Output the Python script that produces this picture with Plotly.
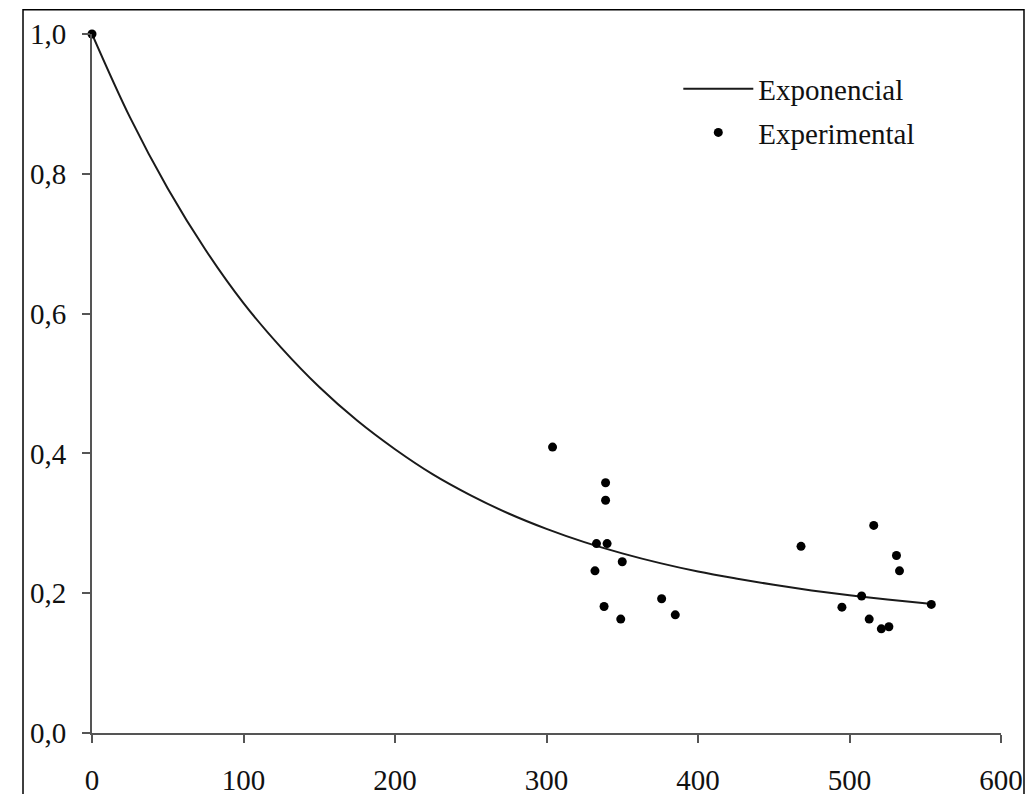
import plotly.graph_objects as go

# Fitted exponential curve
curve_x = [0, 25, 50, 75, 100, 125, 150, 175, 200, 225, 250, 275, 300,
           325, 350, 375, 400, 425, 450, 475, 500, 525, 553]
curve_y = [1.000, 0.881, 0.779, 0.691, 0.615, 0.551, 0.495, 0.447, 0.406,
           0.370, 0.340, 0.314, 0.292, 0.273, 0.257, 0.243, 0.231, 0.221,
           0.212, 0.204, 0.197, 0.191, 0.185]

# Experimental points
exp_x = [0, 304, 339, 339, 333, 340, 350, 332, 338, 349, 376, 385, 468,
         516, 531, 533, 508, 495, 513, 521, 526, 554]
exp_y = [1.000, 0.409, 0.358, 0.333, 0.271, 0.271, 0.245, 0.232, 0.181,
         0.163, 0.192, 0.169, 0.267, 0.297, 0.254, 0.232, 0.196, 0.180,
         0.163, 0.149, 0.152, 0.184]

x_ticks = [0, 100, 200, 300, 400, 500, 600]
y_ticks = [0.0, 0.2, 0.4, 0.6, 0.8, 1.0]

FONT = "Liberation Serif, Times New Roman, serif"
FSIZE = 29

fig = go.Figure()
fig.add_trace(go.Scatter(
    x=curve_x, y=curve_y, mode="lines", name="Exponencial",
    line=dict(color="#1a1a1a", width=2, shape="spline"),
    legendgroup="a", cliponaxis=False,
))
fig.add_trace(go.Scatter(
    x=exp_x, y=exp_y, mode="markers", name="Experimental",
    marker=dict(color="black", size=9),
    legendgroup="b", cliponaxis=False,
))

axis_common = dict(
    showgrid=False, zeroline=False, showline=True, automargin=False,
    linecolor="#555555", linewidth=2,
    ticks="outside", ticklen=8, tickwidth=2, tickcolor="#555555",
    tickfont=dict(family=FONT, size=FSIZE, color="#111111"),
)

fig.update_xaxes(range=[0, 600], tickvals=x_ticks, ticklabelstandoff=12,
                 **axis_common)
fig.update_yaxes(range=[0, 1.0], tickvals=y_ticks, tickformat=".1f",
                 ticklabelstandoff=10, **axis_common)

fig.update_layout(
    width=1033, height=794,
    margin=dict(l=84, r=40, t=26, b=69, autoexpand=False),
    paper_bgcolor="white", plot_bgcolor="white",
    separators=",.",
    font=dict(family=FONT, size=FSIZE, color="#111111"),
    showlegend=True,
    legend=dict(
        x=0.645, y=0.89, xanchor="left", yanchor="middle",
        bgcolor="rgba(0,0,0,0)", borderwidth=0,
        traceorder="grouped", tracegroupgap=3,
        itemwidth=70,
        font=dict(family=FONT, size=FSIZE, color="#111111"),
    ),
    shapes=[dict(
        type="rect", xref="paper", yref="paper",
        x0=-0.0759, x1=1.0253, y0=-0.2, y1=1.0348,
        line=dict(color="black", width=1.5), layer="above",
    )],
)

fig.write_html("out.html")
